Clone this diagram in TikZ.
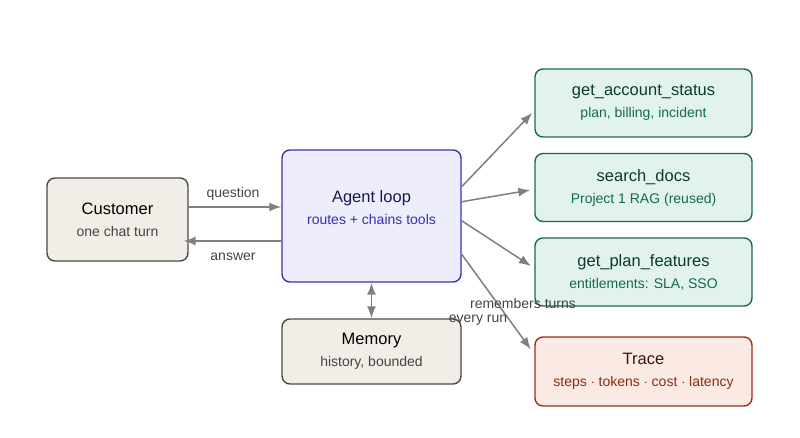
\documentclass[tikz,border=0pt]{standalone}
\usepackage{fontspec}
\setmainfont{Liberation Sans}
\usetikzlibrary{arrows.meta}

\definecolor{custfill}{HTML}{F1EEE7}
\definecolor{custdraw}{HTML}{4A4A45}
\definecolor{custsub}{HTML}{444444}
\definecolor{agentfill}{HTML}{EEEDFC}
\definecolor{agentdraw}{HTML}{3A32B8}
\definecolor{agenttitle}{HTML}{1A1A50}
\definecolor{agentsub}{HTML}{3A2FB0}
\definecolor{toolfill}{HTML}{E1F3EC}
\definecolor{tooldraw}{HTML}{1E6B4E}
\definecolor{tooltitle}{HTML}{0C3B2C}
\definecolor{toolsub}{HTML}{136B4B}
\definecolor{tracefill}{HTML}{FBEAE4}
\definecolor{tracedraw}{HTML}{9C2F17}
\definecolor{tracetitle}{HTML}{3A150A}
\definecolor{tracesub}{HTML}{8E2C10}
\definecolor{flowgray}{HTML}{80807B}

\newcommand{\boxtitle}[1]{{\fontsize{16.5}{22}\selectfont #1}}
\newcommand{\boxsub}[1]{{\fontsize{14}{22}\selectfont #1}}

\begin{document}
\begin{tikzpicture}[x=1pt,y=1pt,yscale=-1,
    box/.style={rounded corners=8pt, line width=1.4pt, align=center, inner sep=0pt,
        font=\fontsize{14}{22}\selectfont},
    custbox/.style={box, draw=custdraw, fill=custfill, text=black},
    agentbox/.style={box, draw=agentdraw, fill=agentfill, text=agenttitle},
    toolbox/.style={box, draw=tooldraw, fill=toolfill, text=tooltitle,
        minimum width=217pt, minimum height=68pt},
    tracebox/.style={box, draw=tracedraw, fill=tracefill, text=tracetitle,
        minimum width=217pt, minimum height=69pt},
    flow/.style={draw=flowgray, line width=1.5pt, -{Latex[length=12pt,width=9pt]}},
    flowlabel/.style={text=custsub, font=\fontsize{14}{16}\selectfont, inner sep=0pt}]
    \useasboundingbox (0,0) rectangle (800,438);

    %Shape: Customer
    \node (cust) at (117.5,219.5) [custbox, minimum width=141pt, minimum height=83pt]
        {\boxtitle{Customer}\\\boxsub{\color{custsub}one chat turn}};
    %Shape: Agent loop
    \node (agent) at (371.5,216) [agentbox, minimum width=179pt, minimum height=132pt]
        {\boxtitle{Agent loop}\\\boxsub{\color{agentsub}routes + chains tools}\\[-6pt]};
    %Shape: Memory
    \node (mem) at (371.5,351.5) [custbox, minimum width=179pt, minimum height=65pt]
        {\boxtitle{Memory}\\\boxsub{\color{custsub}history, bounded}};
    %Shape: tools
    \node (acct) at (643.5,103) [toolbox]
        {\boxtitle{get\_account\_status}\\\boxsub{\color{toolsub}plan, billing, incident}};
    \node (docs) at (643.5,187.5) [toolbox]
        {\boxtitle{search\_docs}\\\boxsub{\color{toolsub}Project 1 RAG (reused)}};
    \node (feat) at (643.5,272) [toolbox]
        {\boxtitle{get\_plan\_features}\\\boxsub{\color{toolsub}entitlements: SLA, SSO}};
    %Shape: Trace
    \node (trace) at (643.5,371.5) [tracebox]
        {\boxtitle{Trace}\\\boxsub{\color{tracesub}steps $\cdot$ tokens $\cdot$ cost $\cdot$ latency}};

    %Straight Lines
    \draw [flow] (cust.east |- 0,207) -- (agent.west |- 0,207);
    \draw [flow] (agent.west |- 0,241) -- ([xshift=-5pt]cust.east |- 0,241);
    \draw [flow, shorten >=3pt] (agent.18) -- (acct.184);
    \draw [flow, shorten >=4pt] (agent.9) -- (docs.181);
    \draw [flow, shorten >=4pt] (agent.-3) -- (feat.178);
    \draw [flow, shorten >=6pt] (agent.-23) -- (trace.171);
    \draw [flow, {Latex[length=12pt,width=9pt]}-{Latex[length=12pt,width=9pt]}] (agent) -- (mem);

    % Text Node
    \node (qlabel) at (233,194) [flowlabel] {question};
    \node (alabel) at (233,257) [flowlabel] {answer};
    \node (mlabel) at (523,303) [flowlabel] {remembers turns};
    \node (rlabel) at (478,320) [flowlabel] {every run};
\end{tikzpicture}
\end{document}
